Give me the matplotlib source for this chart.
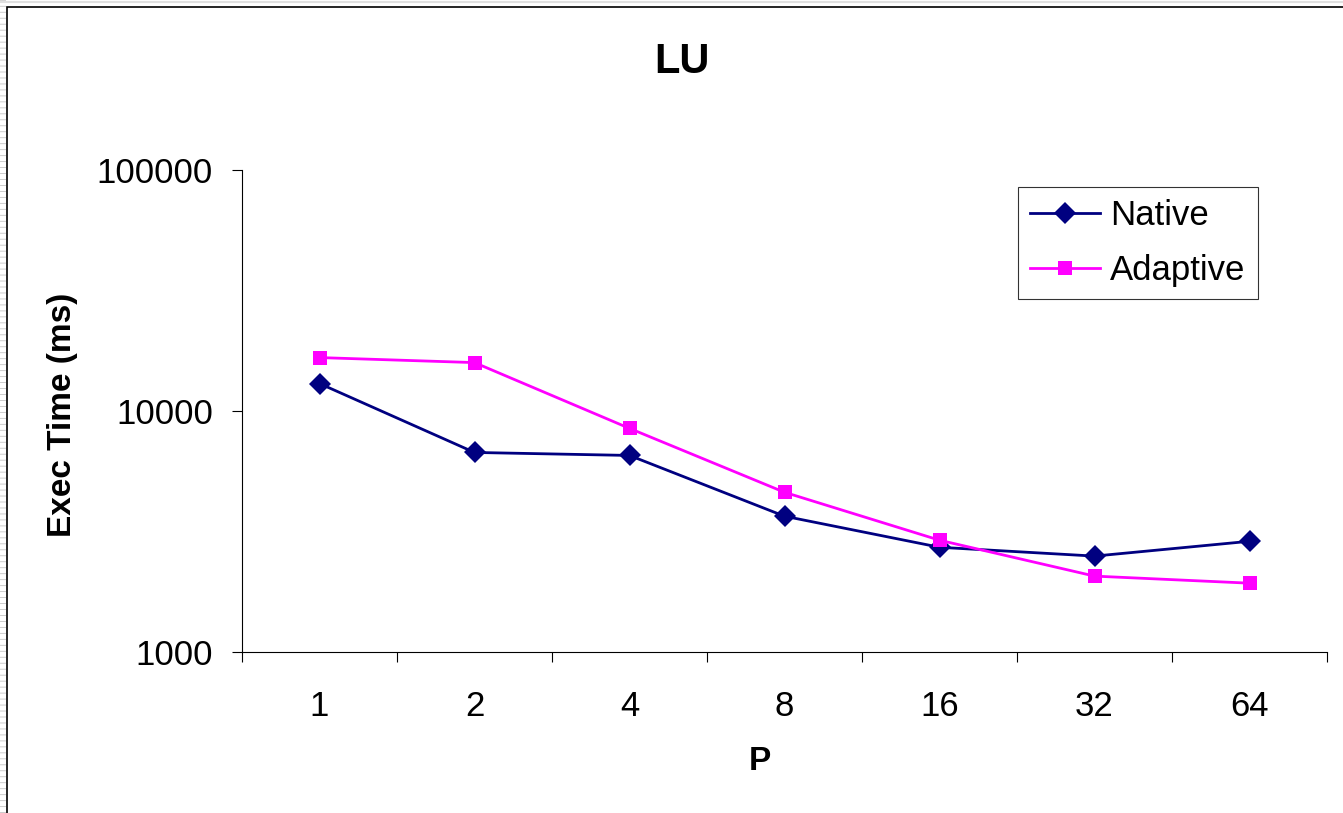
import matplotlib
matplotlib.use("Agg")
import matplotlib.pyplot as plt
from matplotlib.ticker import FixedLocator, NullLocator, FixedFormatter
from matplotlib.lines import Line2D
from matplotlib.patches import Rectangle

plt.rcParams['font.family'] = ['Liberation Sans', 'DejaVu Sans']

categories = ["1", "2", "4", "8", "16", "32", "64"]
native = [13000, 6730, 6540, 3660, 2720, 2500, 2880]
adaptive = [16660, 15880, 8470, 4600, 2910, 2065, 1930]
y_ticks = [1000, 10000, 100000]
y_tick_labels = ["1000", "10000", "100000"]

W, H = 1343, 813
fig = plt.figure(figsize=(W / 100, H / 100), dpi=100)
ax = fig.add_axes([242 / W, 1 - 652 / H, (1327 - 242) / W, (652 - 170) / H])

x = list(range(len(categories)))
ax.plot(x, native, color='#000080', lw=2.0, marker='D', ms=11, mew=0, label='Native')
ax.plot(x, adaptive, color='#FF00FF', lw=2.0, marker='s', ms=10, mew=0, label='Adaptive')

ax.set_yscale('log')
ax.set_ylim(1000, 100000)
ax.yaxis.set_major_locator(FixedLocator(y_ticks))
ax.yaxis.set_major_formatter(FixedFormatter(y_tick_labels))
ax.yaxis.set_minor_locator(NullLocator())
ax.tick_params(axis='y', which='major', length=7, width=0.8, pad=14, labelsize=25, direction='out')

ax.set_xlim(-0.5, len(categories) - 0.5)
ax.set_xticks(x)
ax.set_xticklabels(categories)
ax.set_xticks([i - 0.5 for i in range(len(categories) + 1)], minor=True)
ax.tick_params(axis='x', which='major', length=0, pad=27, labelsize=25)
ax.tick_params(axis='x', which='minor', length=7, width=0.8, direction='out')

for s in ['top', 'right']:
    ax.spines[s].set_visible(False)
for s in ['left', 'bottom']:
    ax.spines[s].set_linewidth(0.8)
    ax.spines[s].set_color('black')

fig.text(682 / W, 1 - 73 / H, "LU", fontsize=30, fontweight='bold', ha='center', va='baseline')
fig.text(760 / W, 1 - 770 / H, "P", fontsize=24, fontweight='bold', ha='center', va='baseline')
fig.text(62 / W, 1 - 415 / H, "Exec Time (ms)", fontsize=24, fontweight='bold', ha='center', va='center', rotation=90)

leg = ax.legend(loc='upper left', bbox_to_anchor=(1018 / W, 1 - 187 / H), bbox_transform=fig.transFigure,
                fontsize=25, frameon=True, fancybox=False, shadow=False, handlelength=2.0,
                handletextpad=0.3, labelspacing=0.62, borderpad=0.35, borderaxespad=0)
leg.get_frame().set_edgecolor('black')
leg.get_frame().set_linewidth(0.8)

# figure border
fig.patches.append(Rectangle((7 / W, -0.1), 1.2, 1 - 7 / H + 0.1, transform=fig.transFigure,
                             fill=False, edgecolor='black', lw=1.2))
fig.lines.append(Line2D([3 / W, 3 / W], [0, 1], transform=fig.transFigure, color='#c8c8c8',
                        lw=4.3, dashes=(0.15, 0.85)))
fig.lines.append(Line2D([0, 1], [1 - 2 / H, 1 - 2 / H], transform=fig.transFigure, color='#e0e0e0', lw=1.5))

fig.savefig('out.png', dpi=100)
